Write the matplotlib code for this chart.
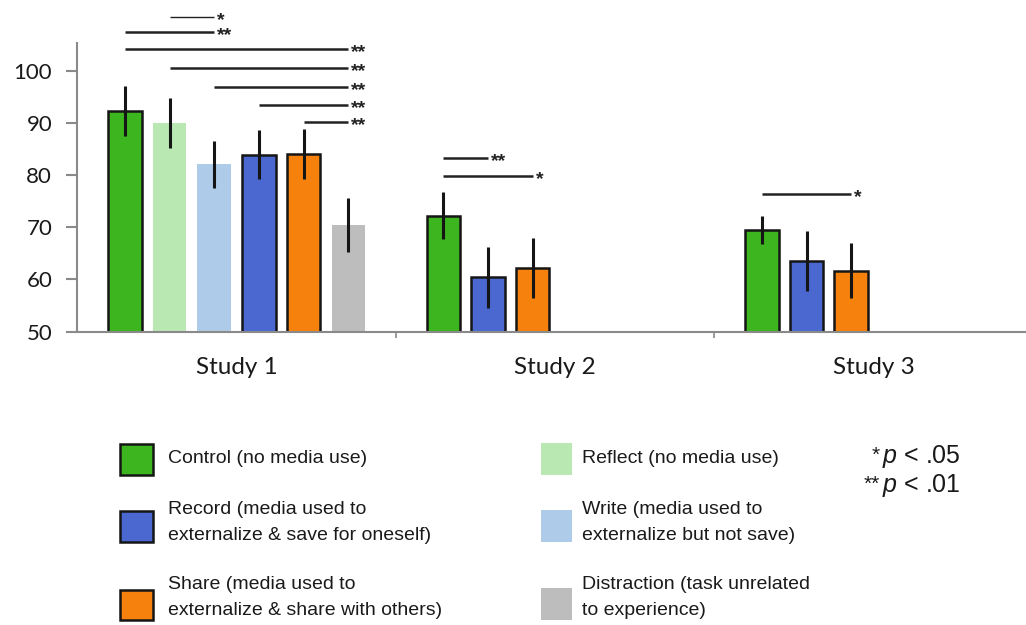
import matplotlib.pyplot as plt
from matplotlib.patches import Rectangle

studies = ['Study 1', 'Study 2', 'Study 3']

# bars inside each study, left to right
study_conditions = [
    ['Control', 'Reflect', 'Write', 'Record', 'Share', 'Distraction'],
    ['Control', 'Record', 'Share'],
    ['Control', 'Record', 'Share'],
]
study_means = [
    [92.3, 90.0, 82.1, 83.9, 84.0, 70.4],
    [72.2, 60.4, 62.2],
    [69.5, 63.5, 61.7],
]
study_errors = [
    [4.8, 4.75, 4.5, 4.7, 4.75, 5.15],
    [4.5, 5.9, 5.8],
    [2.7, 5.7, 5.2],
]

# significant pairwise differences: (study, bar a, bar b, stars)
comparisons = [
    (0, 1, 2, '*'),
    (0, 0, 2, '**'),
    (0, 0, 5, '**'),
    (0, 1, 5, '**'),
    (0, 2, 5, '**'),
    (0, 3, 5, '**'),
    (0, 4, 5, '**'),
    (1, 0, 1, '**'),
    (1, 0, 2, '*'),
    (2, 0, 2, '*'),
]

legend_labels = {
    'Control': 'Control (no media use)',
    'Reflect': 'Reflect (no media use)',
    'Record': 'Record (media used to\nexternalize & save for oneself)',
    'Write': 'Write (media used to\nexternalize but not save)',
    'Share': 'Share (media used to\nexternalize & share with others)',
    'Distraction': 'Distraction (task unrelated\nto experience)',
}
legend_grid = [['Control', 'Reflect'], ['Record', 'Write'], ['Share', 'Distraction']]

p_stars = ['*', '**']
p_thresholds = ['< .05', '< .01']

colors = {
    'Control': '#3db51f',
    'Reflect': '#b9e8b3',
    'Write': '#aecbea',
    'Record': '#4a68cf',
    'Share': '#f6820d',
    'Distraction': '#bdbdbd',
}
outlined = {'Control', 'Record', 'Share'}

# layout (pixels)
W, H = 1026, 625
ax_left, ax_top, ax_bottom = 77.3, 43.0, 331.7
cat_px = 318.5
bracket_y = [110.3, 107.4, 104.1, 100.5, 96.8, 93.4, 90.2, 83.3, 79.8, 76.3]
bracket_lw = [1.0, 1.8, 1.8, 1.8, 1.8, 1.8, 1.8, 1.8, 1.8, 1.8]
pitch = 44.7 / cat_px
bar_w = 33.5 / cat_px

plt.rcParams['mathtext.fontset'] = 'custom'
plt.rcParams['mathtext.it'] = 'Liberation Sans:italic'
plt.rcParams['mathtext.rm'] = 'Liberation Sans'

fig = plt.figure(figsize=(W / 100, H / 100), dpi=100)
ax = fig.add_axes([ax_left / W, 1 - ax_bottom / H, (W - ax_left) / W, (ax_bottom - ax_top) / H])
ax.set_ylim(50, 105.3)
ax.set_xlim(-0.5, -0.5 + (W - ax_left) / cat_px)


def slot_x(s, k):
    return s + (k - 2.5) * pitch


for s, (names, means, errs) in enumerate(zip(study_conditions, study_means, study_errors)):
    for k, (name, m, e) in enumerate(zip(names, means, errs)):
        x = slot_x(s, k)
        if name in outlined:
            ax.bar(x, m, width=bar_w, color=colors[name], edgecolor='#151515', linewidth=1.8, zorder=2)
        else:
            ax.bar(x, m, width=bar_w, color=colors[name], linewidth=0, zorder=2)
        ax.errorbar(x, m, yerr=e, fmt='none', ecolor='#151515', elinewidth=2.2, capsize=0, zorder=3)

for (s, a, b, stars), y, lw in zip(comparisons, bracket_y, bracket_lw):
    x0, x1 = slot_x(s, a), slot_x(s, b)
    ax.plot([x0, x1], [y, y], color='#222222', lw=lw, clip_on=False, solid_capstyle='butt')
    ax.annotate(stars, xy=(x1, y), xytext=(2.0, -5.6), textcoords='offset points',
                ha='left', va='baseline', fontsize=14, fontweight='bold',
                family='Liberation Sans', color='#222222', annotation_clip=False)

for side in ['top', 'right']:
    ax.spines[side].set_visible(False)
for side in ['left', 'bottom']:
    ax.spines[side].set_color('#8a8a8a')
    ax.spines[side].set_linewidth(1.5)

ax.set_yticks([50, 60, 70, 80, 90, 100])
ax.tick_params(axis='y', direction='out', length=7.6, width=1.5, color='#8a8a8a',
               pad=10.5, labelsize=16, labelcolor='#1a1a1a')
ax.set_xticks(range(len(studies)))
ax.set_xticklabels(studies)
ax.tick_params(axis='x', which='major', length=0, pad=18.5, labelsize=17.5, labelcolor='#1a1a1a')
ax.set_xticks([0.5, 1.5], minor=True)
ax.tick_params(axis='x', which='minor', direction='out', length=4.5, width=1.2, color='#8a8a8a')
for lbl in ax.get_xticklabels() + ax.get_yticklabels():
    lbl.set_family('Lato')

# legend drawn in figure pixels
square_left = [120.3, 540.7]
square_top = [444.0, 511.3, 589.6]
text_left = [168.0, 582.0]
text_base = [463.3, 514.0, 589.3]
line_step = 26.0


def fig_xy(px, py):
    return px / W, 1 - py / H


for r, row in enumerate(legend_grid):
    for c, name in enumerate(row):
        if name in outlined:
            w, h = 32.5, 30.5
            sq = Rectangle(fig_xy(square_left[c], square_top[r] + h), w / W, h / H,
                           transform=fig.transFigure, facecolor=colors[name],
                           edgecolor='#151515', linewidth=1.8)
        else:
            w, h = 31.0, 32.0
            sq = Rectangle(fig_xy(square_left[c], square_top[r] - 1.3 + h), w / W, h / H,
                           transform=fig.transFigure, facecolor=colors[name], linewidth=0)
        fig.add_artist(sq)
        for i, line in enumerate(legend_labels[name].split('\n')):
            fig.text(*fig_xy(text_left[c], text_base[r] + i * line_step), line,
                     ha='left', va='baseline', fontsize=14, color='#1a1a1a',
                     family='Liberation Sans')

p_left = 881.7
p_base = [463.3, 491.7]
for stars, thr, yb in zip(p_stars, p_thresholds, p_base):
    fig.text(*fig_xy(p_left - 2, yb - 2), stars, ha='right', va='baseline', fontsize=15,
             color='#1a1a1a', family='Liberation Sans')
    fig.text(*fig_xy(p_left, yb), r'$\mathit{p}$ ' + thr, ha='left', va='baseline',
             fontsize=18, color='#1a1a1a', family='Liberation Sans')

fig.savefig('out.png', dpi=100)
